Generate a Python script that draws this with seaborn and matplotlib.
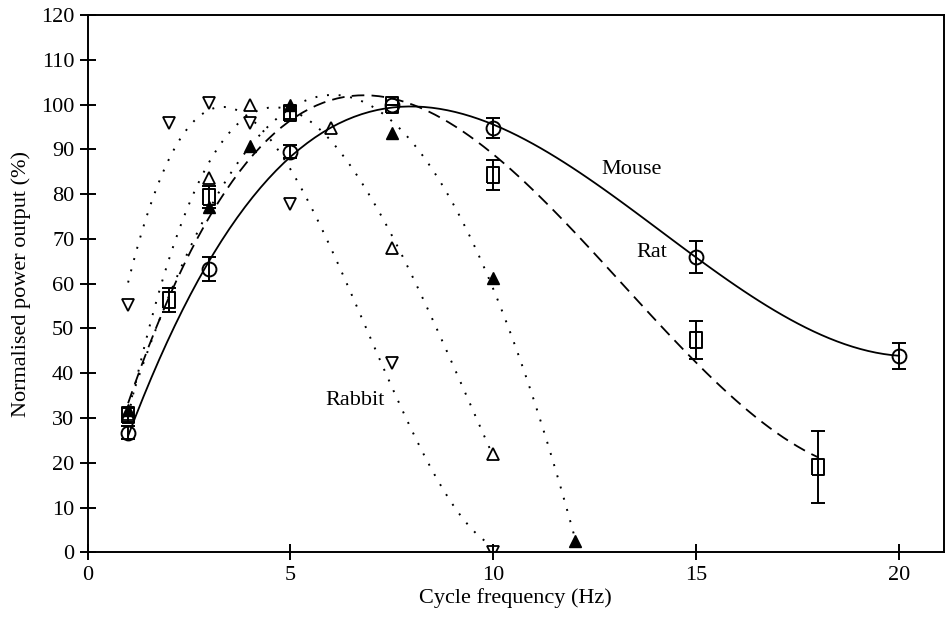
import seaborn as sns
import numpy as np
import matplotlib.pyplot as plt

# Normalised power output vs cycle frequency (mouse, rat, rabbit)

mouse_hz = [1, 3, 5, 7.5, 10, 15, 20]
mouse_pw = [26.7, 63.2, 89.5, 100, 94.8, 65.9, 43.9]
mouse_err = [1.5, 2.7, 1.5, 0, 2.3, 3.6, 2.9]

rat_hz = [1, 2, 3, 5, 7.5, 10, 15, 18]
rat_pw = [30.7, 56.3, 79.3, 98.2, 99.9, 84.3, 47.4, 19.1]
rat_err = [1.5, 2.7, 2.5, 1.5, 0, 3.4, 4.3, 8.0]

# rabbit muscles: three preparations
rab_down_hz = [1, 2, 3, 4, 5, 7.5, 10]
rab_down_pw = [55.3, 95.9, 100.3, 95.9, 77.8, 42.3, 0]

rab_open_hz = [1, 3, 4, 6, 7.5, 10]
rab_open_pw = [31.0, 83.7, 99.9, 94.7, 67.9, 21.9]

rab_fill_hz = [1, 3, 4, 5, 7.5, 10, 12]
rab_fill_pw = [31.8, 77.2, 90.7, 99.9, 93.6, 61.2, 2.6]

sns.set_style("ticks")
plt.rcParams['font.family'] = ['Liberation Serif', 'DejaVu Serif']
plt.rcParams.update({'text.color': 'black', 'axes.labelcolor': 'black',
                     'xtick.color': 'black', 'ytick.color': 'black'})

fig = plt.figure(figsize=(9.47, 6.18), dpi=100)
ax = fig.add_axes([0.0924, 0.1063, 0.9044, 0.8694])

line = dict(color='black', lw=1.3)
sns.regplot(x=mouse_hz, y=mouse_pw, order=3, ci=None, scatter=False, truncate=True,
            ax=ax, line_kws=dict(line, ls='-'))
sns.regplot(x=rat_hz, y=rat_pw, order=3, ci=None, scatter=False, truncate=True,
            ax=ax, line_kws=dict(line, ls=(0, (7, 4))))
for hz, pw in [(rab_down_hz, rab_down_pw), (rab_open_hz, rab_open_pw), (rab_fill_hz, rab_fill_pw)]:
    sns.regplot(x=hz, y=pw, order=3, ci=None, scatter=False, truncate=True,
                ax=ax, line_kws=dict(color='black', lw=1.4, ls=(0, (1, 5))))

# tall open rectangle like the printed square symbol
tall_sq = [(-0.7, -1), (0.7, -1), (0.7, 1), (-0.7, 1), (-0.7, -1)]

ax.errorbar(mouse_hz, mouse_pw, yerr=mouse_err, fmt='o', ms=10, mfc='none', mec='black',
            mew=1.4, ecolor='black', elinewidth=1.4, capsize=5, capthick=1.4)
ax.errorbar(rat_hz, rat_pw, yerr=rat_err, fmt='none', ecolor='black', elinewidth=1.4,
            capsize=5, capthick=1.4)
ax.plot(rat_hz, rat_pw, ls='none', marker=tall_sq, ms=12, mfc='none', mec='black', mew=1.4)
ax.plot(rab_down_hz, rab_down_pw, 'v', ms=9, mfc='none', mec='black', mew=1.3, ls='none')
ax.plot(rab_open_hz, rab_open_pw, '^', ms=9, mfc='none', mec='black', mew=1.3, ls='none')
ax.plot(rab_fill_hz, rab_fill_pw, '^', ms=9, mfc='black', mec='black', ls='none')

ax.text(13.4, 85.5, 'Mouse', fontsize=16, ha='center', va='center')
ax.text(13.9, 67, 'Rat', fontsize=16, ha='center', va='center')
ax.text(6.6, 34, 'Rabbit', fontsize=16, ha='center', va='center')

ax.set_xlim(0, 21.1)
ax.set_ylim(0, 120)
ax.set_xticks([0, 5, 10, 15, 20])
ax.set_yticks(np.arange(0, 121, 10))
ax.tick_params(direction='inout', length=11, width=1.4, labelsize=16, pad=4)
for s in ax.spines.values():
    s.set_visible(True)
    s.set_linewidth(1.4)
    s.set_color('black')
ax.set_xlabel('Cycle frequency (Hz)', fontsize=16)
ax.set_ylabel('Normalised power output (%)', fontsize=16)
ax.yaxis.set_label_coords(-0.066, 0.5)
ax.xaxis.set_label_coords(0.5, -0.066)

fig.savefig('out.png', dpi=100)
